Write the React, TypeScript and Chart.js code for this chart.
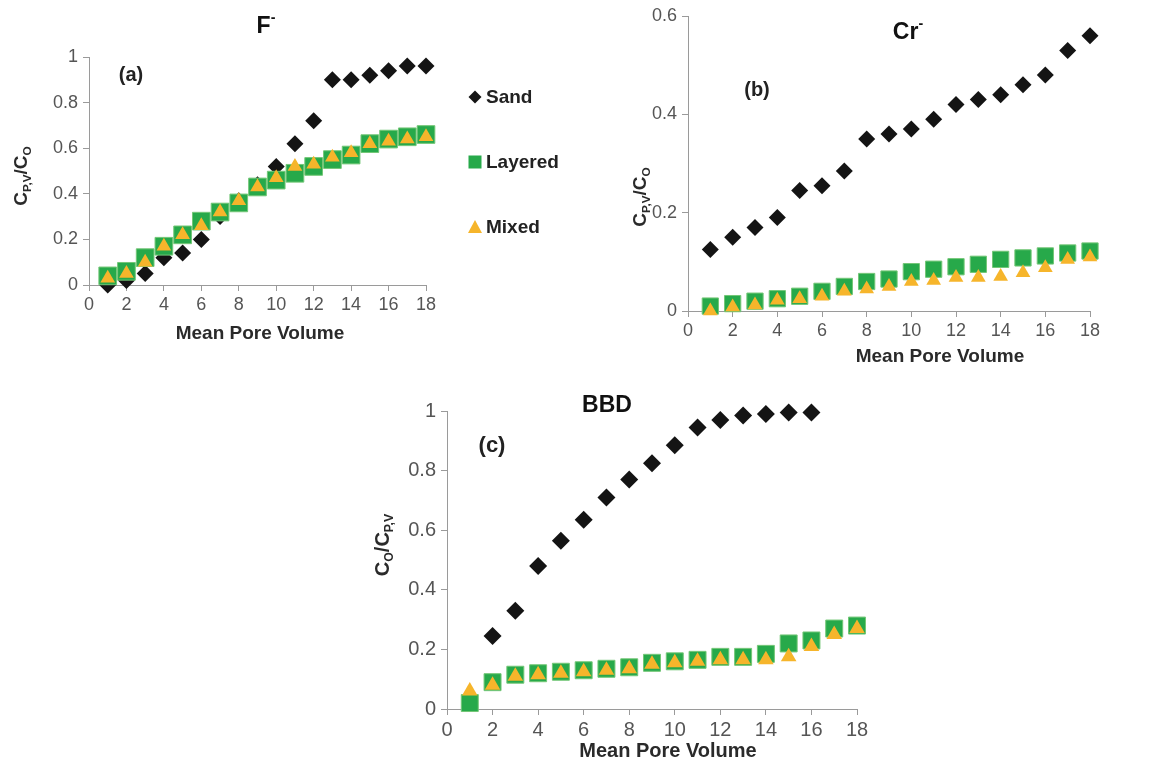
import React, { useEffect, useRef } from "react";
import { Chart, registerables } from "chart.js";

Chart.register(...registerables);

// ---------- data ----------
const poreVolume = [1, 2, 3, 4, 5, 6, 7, 8, 9, 10, 11, 12, 13, 14, 15, 16, 17, 18];
const seriesNames = ["Sand", "Layered", "Mixed"];

// (a) F-
const sandF = [0.0, 0.02, 0.05, 0.12, 0.14, 0.2, 0.3, 0.37, 0.44, 0.52, 0.62, 0.72, 0.9, 0.9, 0.92, 0.94, 0.96, 0.96];
const layeredF = [0.04, 0.06, 0.12, 0.17, 0.22, 0.28, 0.32, 0.36, 0.43, 0.46, 0.49, 0.52, 0.55, 0.57, 0.62, 0.64, 0.65, 0.66];
const mixedF = [0.03, 0.05, 0.1, 0.17, 0.22, 0.26, 0.32, 0.37, 0.43, 0.47, 0.52, 0.53, 0.56, 0.58, 0.62, 0.63, 0.64, 0.65];

// (b) Cr-
const sandCr = [0.125, 0.15, 0.17, 0.19, 0.245, 0.255, 0.285, 0.35, 0.36, 0.37, 0.39, 0.42, 0.43, 0.44, 0.46, 0.48, 0.53, 0.56];
const layeredCr = [0.01, 0.015, 0.02, 0.025, 0.03, 0.04, 0.05, 0.06, 0.065, 0.08, 0.085, 0.09, 0.095, 0.105, 0.108, 0.112, 0.118, 0.122];
const mixedCr = [0.0, 0.008, 0.012, 0.022, 0.025, 0.03, 0.04, 0.045, 0.05, 0.06, 0.062, 0.068, 0.068, 0.07, 0.078, 0.088, 0.105, 0.11];

// (c) BBD
const sandBBD = [null, 0.245, 0.33, 0.48, 0.565, 0.635, 0.71, 0.77, 0.825, 0.885, 0.945, 0.97, 0.985, 0.99, 0.995, 0.995, null, null];
const layeredBBD = [0.02, 0.09, 0.115, 0.12, 0.125, 0.13, 0.135, 0.14, 0.155, 0.16, 0.165, 0.175, 0.175, 0.185, 0.22, 0.23, 0.27, 0.28];
const mixedBBD = [0.06, 0.08, 0.11, 0.115, 0.12, 0.125, 0.13, 0.135, 0.15, 0.155, 0.16, 0.165, 0.165, 0.165, 0.175, 0.21, 0.25, 0.27];

const xMax = 18;
const xStep = 2;

// ---------- styles ----------
const FONT = '"Liberation Sans", Arial, Helvetica, sans-serif';
const SAND_COLOR = "#141414";
const LAYERED_COLOR = "#27A94A";
const LAYERED_EDGE = "#74C777";
const MIXED_COLOR = "#F6B52B";
const AXIS_COLOR = "#9a9a9a";
const TICK_COLOR = "#555555";
const TITLE_COLOR = "#2a2a2a";

type Seg = { t: string; s?: "sub" | "sup" };
type TextItem = { segs: Seg[]; x: number; y: number; size: number; weight: string; color: string; rotate?: boolean };

function drawRich(ctx: CanvasRenderingContext2D, it: TextItem) {
  ctx.save();
  ctx.translate(it.x, it.y);
  if (it.rotate) ctx.rotate(-Math.PI / 2);
  const fnt = (sz: number) => `${it.weight} ${sz}px ${FONT}`;
  let total = 0;
  const widths = it.segs.map((sg) => {
    ctx.font = fnt(sg.s ? it.size * 0.62 : it.size);
    const w = ctx.measureText(sg.t).width;
    total += w;
    return w;
  });
  let x = -total / 2;
  ctx.fillStyle = it.color;
  ctx.textBaseline = "middle";
  ctx.textAlign = "left";
  it.segs.forEach((sg, i) => {
    ctx.font = fnt(sg.s ? it.size * 0.62 : it.size);
    const dy = sg.s === "sub" ? it.size * 0.32 : sg.s === "sup" ? -it.size * 0.38 : 0;
    ctx.fillText(sg.t, x, dy);
    x += widths[i];
  });
  ctx.restore();
}

type Panel = {
  id: string;
  left: number;
  top: number;
  width: number;
  height: number;
  area: { l: number; r: number; t: number; b: number };
  yMax: number;
  yStep: number;
  series: (number | null)[][];
  tickSize: number;
  dR: number;
  sR: number;
  tR: number;
  texts: TextItem[];
  legend?: boolean;
};

const yTitleCPV: Seg[] = [{ t: "C" }, { t: "P,V", s: "sub" }, { t: "/C" }, { t: "O", s: "sub" }];
const yTitleCO: Seg[] = [{ t: "C" }, { t: "O", s: "sub" }, { t: "/C" }, { t: "P,V", s: "sub" }];

const panels: Panel[] = [
  {
    id: "a",
    left: 0,
    top: 0,
    width: 580,
    height: 350,
    area: { l: 89, r: 426, t: 57, b: 285 },
    yMax: 1,
    yStep: 0.2,
    series: [sandF, layeredF, mixedF],
    tickSize: 18,
    dR: 8.5,
    sR: 12.5,
    tR: 8.5,
    legend: true,
    texts: [
      { segs: [{ t: "F" }, { t: "-", s: "sup" }], x: 266, y: 27, size: 23, weight: "bold", color: "#111" },
      { segs: [{ t: "(a)" }], x: 131, y: 75, size: 20, weight: "bold", color: "#222" },
      { segs: yTitleCPV, x: 22, y: 176, size: 19, weight: "bold", color: TITLE_COLOR, rotate: true },
      { segs: [{ t: "Mean Pore Volume" }], x: 260, y: 334, size: 19, weight: "bold", color: TITLE_COLOR },
    ],
  },
  {
    id: "b",
    left: 580,
    top: 0,
    width: 569,
    height: 380,
    area: { l: 688, r: 1090, t: 16, b: 311 },
    yMax: 0.6,
    yStep: 0.2,
    series: [sandCr, layeredCr, mixedCr],
    tickSize: 18,
    dR: 8.5,
    sR: 11.5,
    tR: 8.5,
    texts: [
      { segs: [{ t: "Cr" }, { t: "-", s: "sup" }], x: 908, y: 33, size: 23, weight: "bold", color: "#111" },
      { segs: [{ t: "(b)" }], x: 757, y: 90, size: 20, weight: "bold", color: "#222" },
      { segs: yTitleCPV, x: 641, y: 197, size: 19, weight: "bold", color: TITLE_COLOR, rotate: true },
      { segs: [{ t: "Mean Pore Volume" }], x: 940, y: 357, size: 19, weight: "bold", color: TITLE_COLOR },
    ],
  },
  {
    id: "c",
    left: 360,
    top: 390,
    width: 520,
    height: 376,
    area: { l: 447, r: 857, t: 411, b: 709 },
    yMax: 1,
    yStep: 0.2,
    series: [sandBBD, layeredBBD, mixedBBD],
    tickSize: 20,
    dR: 9,
    sR: 12,
    tR: 9,
    texts: [
      { segs: [{ t: "BBD" }], x: 607, y: 406, size: 23, weight: "bold", color: "#111" },
      { segs: [{ t: "(c)" }], x: 492, y: 446, size: 22, weight: "bold", color: "#222" },
      { segs: yTitleCO, x: 383, y: 545, size: 20, weight: "bold", color: TITLE_COLOR, rotate: true },
      { segs: [{ t: "Mean Pore Volume" }], x: 668, y: 751, size: 20, weight: "bold", color: TITLE_COLOR },
    ],
  },
];

function toPoints(values: (number | null)[]) {
  return poreVolume.map((x, i) => ({ x, y: values[i] }));
}

function fmtTick(v: number | string) {
  return String(Number(Number(v).toFixed(2)));
}

function drawLegend(ctx: CanvasRenderingContext2D) {
  const x = 475;
  const rows = [97, 162, 227];
  ctx.save();
  ctx.fillStyle = SAND_COLOR;
  ctx.beginPath();
  ctx.moveTo(x, rows[0] - 6.5);
  ctx.lineTo(x + 6.5, rows[0]);
  ctx.lineTo(x, rows[0] + 6.5);
  ctx.lineTo(x - 6.5, rows[0]);
  ctx.closePath();
  ctx.fill();
  ctx.fillStyle = LAYERED_COLOR;
  ctx.fillRect(x - 6.5, rows[1] - 6.5, 13, 13);
  ctx.fillStyle = MIXED_COLOR;
  ctx.beginPath();
  ctx.moveTo(x, rows[2] - 7);
  ctx.lineTo(x + 7, rows[2] + 6);
  ctx.lineTo(x - 7, rows[2] + 6);
  ctx.closePath();
  ctx.fill();
  ctx.fillStyle = "#222";
  ctx.font = `bold 19px ${FONT}`;
  ctx.textBaseline = "middle";
  ctx.textAlign = "left";
  seriesNames.forEach((n, i) => ctx.fillText(n, x + 11, rows[i] + 1));
  ctx.restore();
}

function buildChart(canvas: HTMLCanvasElement, p: Panel) {
  const padL = p.area.l - p.left - 60;
  const padR = p.left + p.width - p.area.r;
  const padT = p.area.t - p.top;
  const padB = p.top + p.height - p.area.b - 40;
  const textPlugin = {
    id: "texts_" + p.id,
    afterDraw(chart: any) {
      const ctx = chart.ctx as CanvasRenderingContext2D;
      p.texts.forEach((it) => drawRich(ctx, { ...it, x: it.x - p.left, y: it.y - p.top }));
      if (p.legend) drawLegend(ctx);
    },
  };
  const tickFont = { size: p.tickSize, family: FONT };
  return new Chart(canvas, {
    type: "scatter",
    data: {
      datasets: [
        {
          label: seriesNames[0],
          data: toPoints(p.series[0]) as any,
          pointStyle: "rectRot",
          pointRadius: p.dR,
          backgroundColor: SAND_COLOR,
          borderColor: SAND_COLOR,
          borderWidth: 0,
          order: 3,
          clip: false as any,
        },
        {
          label: seriesNames[1],
          data: toPoints(p.series[1]) as any,
          pointStyle: "rect",
          pointRadius: p.sR,
          backgroundColor: LAYERED_COLOR,
          borderColor: LAYERED_EDGE,
          borderWidth: 1,
          order: 2,
          clip: false as any,
        },
        {
          label: seriesNames[2],
          data: toPoints(p.series[2]) as any,
          pointStyle: "triangle",
          pointRadius: p.tR,
          backgroundColor: MIXED_COLOR,
          borderColor: MIXED_COLOR,
          borderWidth: 0,
          order: 1,
          clip: false as any,
        },
      ],
    },
    options: {
      animation: false,
      responsive: false,
      events: [],
      layout: { padding: { left: padL, right: padR, top: padT, bottom: padB } },
      plugins: { legend: { display: false }, tooltip: { enabled: false }, title: { display: false } },
      scales: {
        x: {
          type: "linear",
          min: 0,
          max: xMax,
          afterFit: (s: any) => {
            s.height = 40;
          },
          ticks: { stepSize: xStep, font: tickFont, color: TICK_COLOR, padding: 3, maxRotation: 0, autoSkip: false, callback: fmtTick },
          grid: { display: true, drawOnChartArea: false, drawTicks: true, tickLength: 6, color: AXIS_COLOR },
          border: { display: true, color: AXIS_COLOR, width: 1 },
        },
        y: {
          type: "linear",
          min: 0,
          max: p.yMax,
          afterFit: (s: any) => {
            s.width = 60;
          },
          ticks: { stepSize: p.yStep, font: tickFont, color: TICK_COLOR, padding: 5, autoSkip: false, callback: fmtTick },
          grid: { display: true, drawOnChartArea: false, drawTicks: true, tickLength: 6, color: AXIS_COLOR },
          border: { display: true, color: AXIS_COLOR, width: 1 },
        },
      },
    } as any,
    plugins: [textPlugin],
  });
}

function PanelCanvas({ p }: { p: Panel }) {
  const ref = useRef<HTMLCanvasElement | null>(null);
  useEffect(() => {
    if (!ref.current) return;
    const chart = buildChart(ref.current, p);
    return () => chart.destroy();
  }, [p]);
  return (
    <canvas
      ref={ref}
      width={p.width}
      height={p.height}
      style={{ position: "absolute", left: p.left, top: p.top, width: p.width, height: p.height }}
    />
  );
}

export default function App() {
  return (
    <div style={{ position: "absolute", left: 0, top: 0, width: 1149, height: 766, background: "#ffffff", overflow: "hidden" }}>
      {panels.map((p) => (
        <PanelCanvas key={p.id} p={p} />
      ))}
    </div>
  );
}
